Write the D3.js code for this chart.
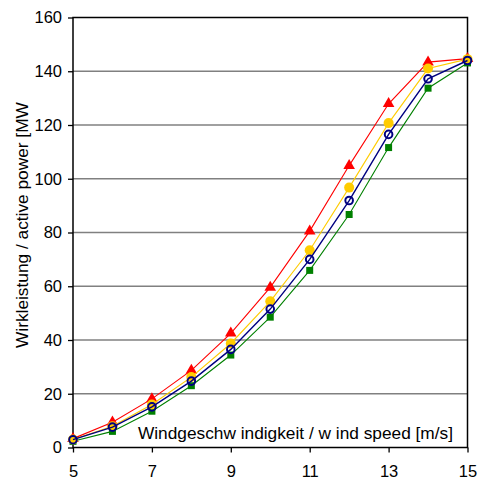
<!DOCTYPE html>
<html><head><meta charset="utf-8">
<script src="https://cdn.jsdelivr.net/npm/d3@7"></script>
<style>body{margin:0;background:#fff}svg{display:block;font-family:"Liberation Sans",Arial,sans-serif}</style>
</head><body><svg id="c" width="479" height="482"></svg>
<script>
const windSpeed = [5,6,7,8,9,10,11,12,13,14,15];
const redSeries = [3.3,9.4,18.1,28.7,42.5,59.6,80.5,104.9,127.9,143.4,144.7];
const yellowSeries = [3.0,7.9,16.0,26.2,38.7,54.4,73.4,96.7,120.7,141.0,144.5];
const blueSeries = [2.9,7.6,15.1,24.7,36.5,51.5,70.0,91.9,116.5,137.2,144.0];
const greenSeries = [2.3,6.0,13.5,23.0,34.4,48.5,65.9,86.7,111.6,133.7,143.1];
const xTicks = [5,7,9,11,13,15];
const yTicks = [0,20,40,60,80,100,120,140,160];
const yTitle = "Wirkleistung / active power [MW";
const xTitle = "Windgeschw indigkeit / w ind speed [m/s]";

const svg = d3.select("#c");
const L=73, R=467.5, T=17.5, B=447.5;
const x = d3.scaleLinear().domain([5,15]).range([L,R]);
const y = d3.scaleLinear().domain([0,160]).range([B,T]);

// grid
svg.append("g").selectAll("line").data(yTicks.filter(d=>d>0&&d<160)).join("line")
  .attr("x1",L).attr("x2",R).attr("y1",d=>y(d)).attr("y2",d=>y(d))
  .attr("stroke","#808080").attr("stroke-width",1.5);

// axes
const yAxis = d3.axisLeft(y).tickValues(yTicks).tickSize(5).tickPadding(6);
const gy = svg.append("g").attr("transform",`translate(${L},0)`).call(yAxis);
const xAxis = d3.axisBottom(x).tickValues(xTicks).tickSize(5).tickPadding(13);
const gx = svg.append("g").attr("transform",`translate(0,${B})`).call(xAxis);
[gy,gx].forEach(g=>{
  g.select(".domain").remove();
  g.selectAll("line").attr("stroke","#000").attr("stroke-width",1.3);
  g.selectAll("text").attr("font-size",16.5).attr("fill","#000").attr("font-family","Liberation Sans, Arial, sans-serif");
});

// frame
svg.append("rect").attr("x",L).attr("y",T).attr("width",R-L).attr("height",B-T)
  .attr("fill","none").attr("stroke","#000").attr("stroke-width",1.5);

const series = [
  {v:greenSeries,c:"#008000",m:"square"},
  {v:redSeries,c:"#ff0000",m:"triangle"},
  {v:yellowSeries,c:"#ffcc00",m:"dot"},
  {v:blueSeries,c:"#000080",m:"ring"}
];
const line = d3.line().x((d,i)=>x(windSpeed[i])).y(d=>y(d));
series.forEach(s=>{
  const g = svg.append("g");
  g.append("path").datum(s.v).attr("d",line).attr("fill","none").attr("stroke",s.c).attr("stroke-width",s.m==="ring"?1.4:1.1);
  const pts = g.selectAll("g.p").data(s.v).join("g").attr("transform",(d,i)=>`translate(${x(windSpeed[i])},${y(d)})`);
  if(s.m==="square") pts.append("rect").attr("x",-3.5).attr("y",-3.5).attr("width",7).attr("height",7).attr("fill",s.c);
  if(s.m==="triangle") pts.append("path").attr("d",d3.symbol(d3.symbolTriangle,58)).attr("fill",s.c);
  if(s.m==="dot") pts.append("circle").attr("r",5).attr("fill",s.c);
  if(s.m==="ring") pts.append("circle").attr("r",3.8).attr("fill","none").attr("stroke",s.c).attr("stroke-width",2);
});

// titles
svg.append("text").attr("x",453).attr("y",439).attr("text-anchor","end")
  .attr("font-size",17.3).attr("fill","#000").text(xTitle);
svg.append("text").attr("transform","translate(28,348) rotate(-90)").attr("text-anchor","start")
  .attr("font-size",17.3).attr("fill","#000").text(yTitle);
</script></body></html>
